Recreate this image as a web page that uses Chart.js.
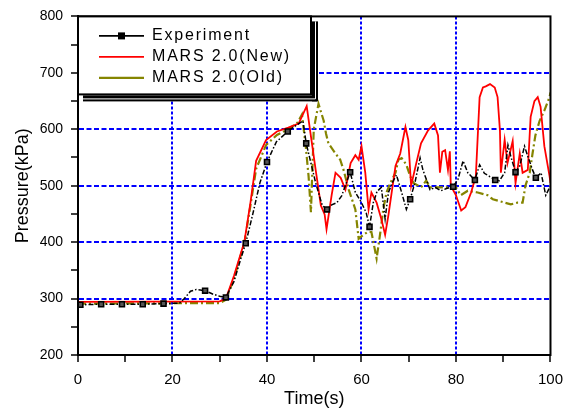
<!DOCTYPE html>
<html>
<head>
<meta charset="utf-8">
<script src="https://cdn.jsdelivr.net/npm/chart.js@4/dist/chart.umd.min.js"></script>
<style>
  html, body { margin: 0; padding: 0; background: #fff; }
  #c { display: block; }
</style>
</head>
<body>
<canvas id="c" width="572" height="412"></canvas>
<script>
// ---------------- DATA ----------------
const seriesLabels = ['Experiment', 'MARS 2.0(New)', 'MARS 2.0(Old)'];

const timeExp = [0, 0.5, 4.9, 9.3, 13.7, 18.1, 21.5, 22.5, 23.8, 25, 26.9, 28.5, 30, 31.3, 33, 34.5, 35.5, 37, 38.5, 40,
  42, 44.4, 46, 47.6, 48.3, 50.3, 51.7, 52.7, 53.7, 54.8, 55.8, 56.8, 57.6, 58.7, 60, 61, 61.7, 62.5, 63.3, 64.2,
  65, 65.7, 66.5, 67.4, 68.5, 69.5, 70.3, 71.3, 72.4, 73, 74.5, 75.6, 76.8, 78, 79.4, 80.4, 81.5, 82.5, 84, 85,
  86, 87, 88.3, 89.2, 90.3, 91, 91.6, 92.6, 93.5, 94.5, 95.2, 96.2, 96.9, 98, 99, 100];
const pressureExp = [289, 289, 290, 290, 290, 291, 292, 300, 313, 316, 314, 308, 304, 302, 330, 372, 398, 450, 505, 542,
  578, 596, 606, 615, 575, 505, 465, 458, 466, 470, 482, 505, 524, 488, 470, 452, 427, 470, 490, 497,
  441, 488, 505, 519, 488, 458, 476, 505, 549, 528, 493, 497, 491, 495, 498, 511, 544, 523, 510, 537,
  522, 517, 510, 509, 523, 572, 552, 524, 535, 570, 552, 528, 514, 523, 483, 500];
const markerTimesExp = [0.5, 4.9, 9.3, 13.7, 18.1, 26.9, 31.3, 35.5, 40, 44.4, 48.3, 52.7, 57.6, 61.7, 70.3, 79.4, 84, 88.3, 92.6, 96.9];

const timeNew = [0, 30, 31.3, 33, 35.2, 36.5, 37.7, 39.8, 42.1, 44.5, 46.7, 48.4, 50.3, 51.4, 52.2, 52.6, 53.7, 54.5, 55.6, 56.6,
  57.7, 58.7, 59.4, 60, 60.8, 61.5, 62.1, 63.2, 64.2, 65, 65.7, 67.2, 68.2, 69.3, 69.9, 70.5, 71.6, 72.6, 74.1, 75.4,
  76.2, 76.6, 77.1, 77.7, 78.3, 78.7, 78.9, 80, 81.1, 82, 83.2, 84.2, 85, 85.7, 86.3, 87.2, 88.2, 88.8, 89.3, 89.5,
  90.3, 90.9, 92, 92.6, 93.5, 94.1, 95.2, 95.8, 96.6, 97.3, 97.9, 98.7, 99.8, 100];
const pressureNew = [294, 295, 300, 340, 400, 470, 544, 581, 596, 603, 610, 641, 528, 465, 449, 423, 484, 523, 514, 493,
  540, 554, 546, 570, 523, 458, 488, 470, 441, 413, 448, 535, 557, 604, 581, 500, 540, 575, 598, 610,
  589, 523, 560, 563, 528, 561, 500, 483, 456, 462, 488, 517, 657, 674, 676, 680, 674, 657, 598, 523,
  581, 540, 579, 505, 557, 523, 528, 622, 650, 657, 640, 570, 517, 505];

const timeOld = [0, 30, 31.3, 33, 35.2, 36.5, 37.7, 39.8, 42.1, 44.5, 46.5, 47.4, 48.2, 48.8, 49.3, 49.9, 50.9, 52, 52.5, 53,
  54.5, 55.5, 56.2, 57.3, 58.7, 59.4, 60.4, 61.3, 62.1, 63.2, 64, 64.6, 65.3, 66.1, 67.2, 67.8, 68.5, 69.5, 70.3, 71,
  72.6, 73.7, 74.5, 76.2, 78.3, 79.8, 81, 82.5, 84.6, 86.7, 87.8, 90.3, 91.6, 93, 94.1, 94.7, 95.6, 96.2, 96.8, 97.7,
  98.7, 99.8, 100];
const pressureOld = [291, 292, 298, 335, 398, 465, 530, 572, 590, 600, 612, 626, 570, 517, 453, 600, 645, 615, 592, 575,
  557, 546, 528, 493, 458, 406, 413, 418, 418, 371, 418, 458, 488, 505, 523, 546, 549, 537, 517, 505,
  497, 509, 497, 497, 497, 500, 483, 491, 488, 483, 476, 470, 467, 470, 470, 500, 523, 557, 589, 615,
  633, 657, 665];

const xTickLabels = [0, 20, 40, 60, 80, 100];
const yTickLabels = [200, 300, 400, 500, 600, 700, 800];

// ---------------- CHART ----------------
const toXY = (ts, ps) => ts.map((t, i) => ({ x: t, y: ps[i] }));
const GRID_BLUE = '#0000FF';
const FONT = "'Liberation Sans', Arial, Helvetica, sans-serif";
Chart.defaults.font.family = FONT;
Chart.defaults.color = '#000';

const frameLegendPlugin = {
  id: 'frameLegend',
  beforeDraw(chart) {
    const L = chart.legend;
    if (L && !L._patched) {
      L._realDraw = L.draw.bind(L);
      L.draw = function () {};
      L._patched = true;
    }
  },
  afterDraw(chart) {
    const ctx = chart.ctx;
    const a = chart.chartArea;
    ctx.save();
    // plot frame
    ctx.strokeStyle = '#000';
    ctx.lineWidth = 2;
    ctx.strokeRect(a.left, a.top, a.right - a.left, a.bottom - a.top);
    // legend box with double-line shadow
    const bx = a.left, by = a.top, bw = 233, bh = 78;
    ctx.fillStyle = '#000';
    ctx.fillRect(bx + 5, by + bh + 1, bw + 1, 6);
    ctx.fillRect(bx + bw + 1, by + 5, 6, bh + 2);
    ctx.strokeStyle = '#fff';
    ctx.lineWidth = 1;
    ctx.beginPath();
    ctx.moveTo(bx + 5, by + bh + 4.5);
    ctx.lineTo(bx + bw + 4.5, by + bh + 4.5);
    ctx.lineTo(bx + bw + 4.5, by + 5);
    ctx.stroke();
    ctx.fillStyle = '#fff';
    ctx.fillRect(bx, by, bw, bh);
    ctx.strokeStyle = '#000';
    ctx.lineWidth = 2;
    ctx.strokeRect(bx, by, bw, bh);
    ctx.restore();

    const L = chart.legend;
    if (L && L._realDraw) {
      const pad = L.options.labels.padding;
      const saved = { left: L.left, top: L.top, right: L.right, bottom: L.bottom };
      const itemX = a.left + 21, itemY = a.top + 11.5;
      L.left = itemX - pad; L.top = itemY - pad; L.right = chart.width; L.bottom = chart.height;
      ctx.save();
      ctx.letterSpacing = '1.8px';
      L._realDraw();
      ctx.restore();
      Object.assign(L, saved);
      // marker on the Experiment legend sample
      const fs = L.options.labels.font.size;
      const cx = itemX + L.options.labels.pointStyleWidth / 2;
      const cy = itemY + fs / 2;
      ctx.save();
      ctx.fillStyle = '#000';
      ctx.fillRect(cx - 3.5, cy - 3.5, 7, 7);
      ctx.restore();
    }
  }
};

new Chart(document.getElementById('c'), {
  type: 'line',
  data: {
    datasets: [
      {
        label: seriesLabels[0],
        data: toXY(timeExp, pressureExp),
        borderColor: '#000',
        backgroundColor: '#000',
        borderWidth: 1.5,
        borderDash: [5, 2, 1.5, 2],
        pointStyle: 'rect',
        pointRadius: (c) => (c.raw && markerTimesExp.includes(c.raw.x)) ? 3.5 : 0,
        pointBackgroundColor: '#555',
        pointBorderColor: '#000',
        pointBorderWidth: 1.6,
        tension: 0,
        fill: false
      },
      {
        label: seriesLabels[1],
        data: toXY(timeNew, pressureNew),
        borderColor: '#FF0000',
        backgroundColor: '#FF0000',
        borderWidth: 1.8,
        pointRadius: 0,
        tension: 0,
        fill: false
      },
      {
        label: seriesLabels[2],
        data: toXY(timeOld, pressureOld),
        borderColor: '#858500',
        backgroundColor: '#858500',
        borderWidth: 2.2,
        borderDash: [8, 3, 2, 3],
        pointRadius: 0,
        tension: 0,
        fill: false
      }
    ]
  },
  options: {
    responsive: false,
    animation: false,
    devicePixelRatio: 1,
    layout: { padding: { top: 11, right: 19, left: 0, bottom: 0 } },
    plugins: {
      tooltip: { enabled: false },
      legend: {
        display: true,
        position: 'chartArea',
        align: 'start',
        labels: {
          usePointStyle: true,
          pointStyleWidth: 45,
          boxHeight: 16,
          padding: 5,
          color: '#000',
          font: { family: FONT, size: 16 },
          generateLabels(chart) {
            const items = Chart.defaults.plugins.legend.labels.generateLabels(chart);
            items.forEach(it => { it.pointStyle = 'line'; });
            return items;
          }
        }
      }
    },
    scales: {
      x: {
        type: 'linear',
        min: 0, max: 100,
        afterFit(s) { s.height = 57; },
        ticks: {
          stepSize: 10,
          autoSkip: false,
          maxRotation: 0,
          padding: 9,
          font: { size: 15 },
          color: '#000',
          callback: (v) => xTickLabels.includes(v) ? String(v) : ''
        },
        grid: {
          color: (c) => (c.tick && xTickLabels.includes(c.tick.value) && c.tick.value > 0 && c.tick.value < 100) ? GRID_BLUE : 'rgba(0,0,0,0)',
          lineWidth: 2,
          tickColor: '#000',
          tickWidth: 1.5,
          tickLength: 7,
          drawTicks: true
        },
        border: { display: true, color: '#000', width: 2, dash: [3, 2] },
        title: { display: true, text: 'Time(s)', font: { size: 18 }, color: '#000', padding: { top: 0, bottom: 2 } }
      },
      y: {
        type: 'linear',
        min: 200, max: 800,
        afterFit(s) { s.width = 78; },
        ticks: {
          stepSize: 50,
          autoSkip: false,
          padding: 8,
          font: { size: 14 },
          color: '#000',
          callback: (v) => yTickLabels.includes(v) ? String(v) : ''
        },
        grid: {
          color: (c) => (c.tick && yTickLabels.includes(c.tick.value) && c.tick.value > 200 && c.tick.value < 800) ? GRID_BLUE : 'rgba(0,0,0,0)',
          lineWidth: 2,
          tickColor: '#000',
          tickWidth: 1.5,
          tickLength: 7,
          drawTicks: true
        },
        border: { display: true, color: '#000', width: 2, dash: [5, 2.5] },
        title: { display: true, text: 'Pressure(kPa)', font: { size: 18 }, color: '#000', padding: { top: 12, bottom: 0 } }
      }
    }
  },
  plugins: [frameLegendPlugin]
});
</script>
</body>
</html>
